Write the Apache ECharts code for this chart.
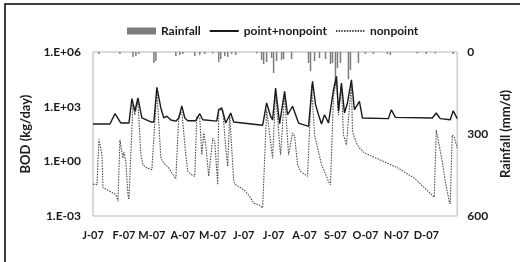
<!DOCTYPE html>
<html>
<head>
<meta charset="utf-8">
<script src="https://cdn.jsdelivr.net/npm/echarts@6/dist/echarts.min.js"></script>
<style>
  html, body { margin: 0; padding: 0; background: #fff; }
  #main { width: 520px; height: 262px; }
</style>
</head>
<body>
<div id="main"></div>
<script>
// x axis: day of year 2007, labels at month starts
const monthStarts = [0, 31, 59, 90, 120, 151, 181, 212, 243, 273, 304, 334];
const monthLabels = ['J-07', 'F-07', 'M-07', 'A-07', 'M-07', 'J-07', 'J-07', 'A-07', 'S-07', 'O-07', 'N-07', 'D-07'];

// left log axis ticks
const bodTicks = [0.001, 1, 1000, 1000000];
const bodTickLabels = ['1.E-03', '1.E+00', '1.E+03', '1.E+06'];

// rainfall (mm/d)
const rainDays = [6, 27, 40, 43, 46, 61, 63, 83, 87, 90, 102, 107, 112, 120, 126, 128, 132, 135, 139, 143,
  164, 169, 171, 174, 179, 181, 184, 189, 191, 199, 216, 218, 222, 227, 233, 238, 240, 243, 245, 248,
  256, 258, 266, 273, 281, 295, 298, 325, 334, 343, 361];
const rainMm = [7, 7, 18, 15, 7, 40, 33, 15, 11, 7, 15, 11, 7, 5, 37, 26, 15, 18, 7, 11,
  5, 29, 44, 37, 22, 77, 33, 29, 26, 26, 40, 70, 33, 22, 26, 44, 40, 120, 59, 40,
  100, 66, 40, 7, 7, 7, 11, 5, 7, 5, 7];

// point+nonpoint BOD (kg/day)
const totalDays = [0, 17, 22, 28, 36, 39, 42, 45, 49, 58, 61, 64, 68, 71, 74, 78, 83, 86, 89, 92,
  95, 103, 107, 110, 124, 126, 129, 131, 133, 138, 141, 170, 174, 178, 180, 183, 187, 192, 195, 200,
  206, 216, 220, 223, 226, 229, 232, 236, 241, 244, 246, 249, 252, 255, 259, 262, 267, 270, 296, 299,
  303, 340, 344, 348, 358, 361, 365];
const totalValues = [112, 112, 410, 126, 126, 2750, 575, 3000, 240, 145, 145, 11500, 850, 240, 300, 185, 160, 240, 1100, 240,
  170, 170, 410, 190, 160, 680, 850, 350, 126, 450, 145, 95, 1600, 300, 190, 10500, 115, 6900, 360, 1050,
  126, 83, 24500, 1300, 360, 112, 360, 126, 8500, 46500, 575, 20000, 450, 1600, 30000, 680, 1950, 240, 220, 680,
  260, 240, 450, 220, 190, 600, 220];

// nonpoint BOD (kg/day)
const nonpointDays = [0, 4, 6, 9, 10, 17, 23, 25, 27, 30, 31, 33, 35, 36, 40, 42, 45, 48, 50, 54,
  59, 64, 68, 71, 76, 79, 83, 86, 89, 93, 95, 98, 102, 104, 107, 109, 111, 113, 116, 118,
  120, 122, 125, 126, 130, 132, 133, 135, 137, 141, 143, 151, 157, 161, 166, 170, 174, 180, 183, 187,
  188, 192, 196, 200, 202, 205, 208, 215, 219, 222, 229, 236, 238, 241, 244, 246, 249, 251, 254, 259,
  260, 264, 267, 272, 305, 322, 342, 344, 350, 353, 357, 358, 360, 362, 365];
const nonpointValues = [0.056, 0.052, 16, 2.3, 0.035, 0.023, 0.015, 0.0065, 15, 1.5, 3.2, 0.9, 0.015, 0.008, 1300, 350, 1950, 2.3, 0.66, 0.43,
  0.35, 8500, 1.5, 0.81, 0.43, 0.23, 0.11, 300, 510, 2.3, 0.28, 0.19, 0.15, 295, 240, 2.3, 36, 8, 0.15, 0.12,
  19, 12, 0.052, 680, 650, 29, 5.4, 0.53, 360, 0.08, 0.052, 0.028, 0.012, 0.0051, 0.0042, 0.0028, 680, 1.5, 6900, 8,
  2.3, 4600, 2.3, 36, 25, 0.66, 0.28, 0.15, 16000, 29, 0.66, 0.08, 0.052, 3700, 29000, 350, 13500, 29, 8, 22000,
  45, 10, 5.4, 2.9, 0.45, 0.12, 0.0107, 52, 1.0, 0.08, 0.0065, 0.0046, 28, 21, 5.4];

const pairs = (xs, ys) => xs.map((x, i) => [x, ys[i]]);
const font = 'Lato';
const ink = '#1a1a1a';
const boldText = { fontFamily: font, fontWeight: 'bold', fontSize: 12, color: ink };

const myChart = echarts.init(document.getElementById('main'));

const option = {
    animation: false,
    textStyle: { fontFamily: font },
    graphic: [{
        type: 'rect',
        shape: { x: 5, y: 4, width: 700, height: 400 },
        style: { fill: 'none', stroke: '#000', lineWidth: 1.5 }
    }],
    legend: {
        // line icons without the round marker
        data: [
            { name: 'Rainfall', icon: 'rect' },
            { name: 'point+nonpoint', itemStyle: { opacity: 0 } },
            { name: 'nonpoint', itemStyle: { opacity: 0 } }
        ],
        left: 127,
        top: 25,
        padding: 0,
        itemWidth: 29,
        itemHeight: 7,
        itemGap: 8,
        symbolKeepAspect: false,
        textStyle: boldText
    },
    grid: {
        left: 93,
        right: 56,
        top: 52,
        bottom: 46,
        show: true,
        borderColor: '#b4b4b4',
        borderWidth: 1
    },
    xAxis: {
        type: 'value',
        min: 0,
        max: 365,
        splitLine: { show: false },
        axisLine: { show: false },
        axisTick: { show: false },
        axisLabel: {
            customValues: monthStarts,
            formatter: v => monthLabels[monthStarts.indexOf(v)],
            margin: 14,
            ...boldText,
            fontSize: 11
        }
    },
    yAxis: [{
        type: 'log',
        logBase: 10,
        min: 0.001,
        max: 1000000,
        splitNumber: 9,
        name: 'BOD (kg/day)',
        nameLocation: 'middle',
        nameRotate: 90,
        nameGap: 56,
        nameTextStyle: { ...boldText, fontSize: 13 },
        splitLine: { show: false },
        axisLine: { show: false },
        axisTick: { show: false },
        axisLabel: {
            margin: 12,
            formatter: v => {
                const i = bodTicks.findIndex(t => Math.abs(Math.log10(t) - Math.log10(v)) < 1e-6);
                return i < 0 ? '' : bodTickLabels[i];
            },
            ...boldText
        }
    }, {
        type: 'value',
        inverse: true,
        min: 0,
        max: 600,
        interval: 300,
        name: 'Rainfall (mm/d)',
        nameLocation: 'middle',
        nameRotate: 90,
        nameGap: 37,
        nameTextStyle: { ...boldText, fontSize: 13 },
        splitLine: { show: false },
        axisLine: { show: false },
        axisTick: { show: false },
        axisLabel: {
            margin: 10,
            ...boldText
        }
    }],
    series: [
        {
            name: 'Rainfall',
            type: 'bar',
            yAxisIndex: 1,
            barWidth: 1.5,
            itemStyle: { color: '#7c7c7c' },
            data: pairs(rainDays, rainMm)
        },
        {
            name: 'nonpoint',
            type: 'line',
            yAxisIndex: 0,
            symbol: 'none',
            lineStyle: { color: '#4a4a4a', width: 1.1, type: [1.5, 1.2] },
            itemStyle: { color: '#4a4a4a' },
            data: pairs(nonpointDays, nonpointValues),
            z: 2
        },
        {
            name: 'point+nonpoint',
            type: 'line',
            yAxisIndex: 0,
            symbol: 'none',
            lineStyle: { color: ink, width: 1.4 },
            itemStyle: { color: ink },
            data: pairs(totalDays, totalValues),
            z: 3
        }
    ]
};
myChart.setOption(option);
</script>
</body>
</html>
